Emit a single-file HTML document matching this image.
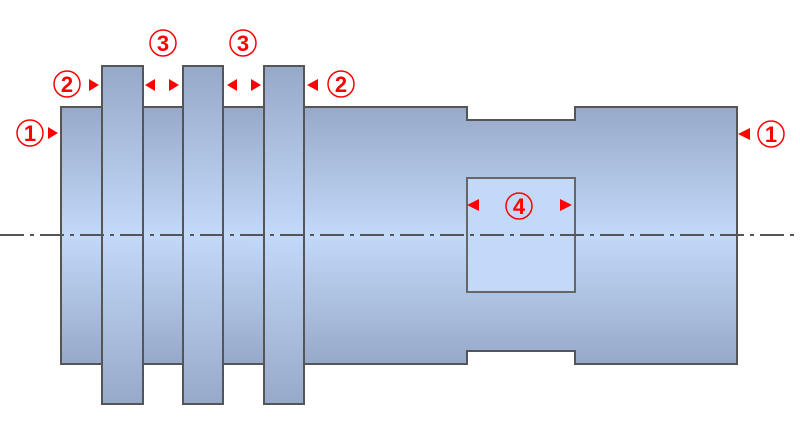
<!DOCTYPE html>
<html><head><meta charset="utf-8"><style>html,body{margin:0;padding:0;background:#fff}svg{display:block}</style></head>
<body>
<svg width="800" height="440" viewBox="0 0 800 440" xmlns="http://www.w3.org/2000/svg">
<defs>
<linearGradient id="g1" gradientUnits="userSpaceOnUse" x1="0" y1="107" x2="0" y2="364">
<stop offset="0" stop-color="#97a9c9"/><stop offset="0.5" stop-color="#c3d9f9"/><stop offset="1" stop-color="#97a9c9"/></linearGradient>
<linearGradient id="g2" gradientUnits="userSpaceOnUse" x1="0" y1="66" x2="0" y2="404">
<stop offset="0" stop-color="#97a9c9"/><stop offset="0.5" stop-color="#c3d9f9"/><stop offset="1" stop-color="#97a9c9"/></linearGradient>
</defs>
<path d="M61,107 H467 V120 H575 V107 H737 V364 H575 V351 H467 V364 H61 Z" fill="url(#g1)" stroke="#555" stroke-width="2"/>
<rect x="467" y="178" width="108" height="114" fill="#c3d9f9" stroke="#666" stroke-width="2"/>
<g fill="url(#g2)" stroke="#555" stroke-width="2">
<rect x="102" y="66" width="41" height="338"/>
<rect x="183" y="66" width="40" height="338"/>
<rect x="264" y="66" width="40" height="338"/>
</g>
<line x1="0" y1="235" x2="800" y2="235" stroke="#555" stroke-width="2" stroke-dasharray="24,6,4,6"/>
<g fill="#f00">
<polygon points="48,127 58,133 48,139"/>
<polygon points="89,79 99,85 89,91"/>
<polygon points="155,79 145,85 155,91"/>
<polygon points="169,79 179,85 169,91"/>
<polygon points="237,79 227,85 237,91"/>
<polygon points="251,79 261,85 251,91"/>
<polygon points="318,79 307,85 318,91"/>
<polygon points="750,128 738,134 750,140"/>
<polygon points="479,199 467,205 479,211"/>
<polygon points="560,199 572,205 560,211"/>
</g>
<g fill="none" stroke="#f00" stroke-width="1.5">
<circle cx="30" cy="133" r="13"/>
<circle cx="67" cy="84" r="13"/>
<circle cx="163" cy="43" r="13"/>
<circle cx="243" cy="43" r="13"/>
<circle cx="341" cy="84" r="13"/>
<circle cx="771" cy="134" r="13"/>
<circle cx="519" cy="206" r="13"/>
</g>
<g fill="#f00" font-family="Liberation Sans, sans-serif" font-size="22" font-weight="bold" text-anchor="middle">
<text x="30" y="141">1</text>
<text x="67" y="92">2</text>
<text x="163" y="51">3</text>
<text x="243" y="51">3</text>
<text x="341" y="92">2</text>
<text x="771" y="142">1</text>
<text x="519" y="214">4</text>
</g>
</svg>
</body></html>
